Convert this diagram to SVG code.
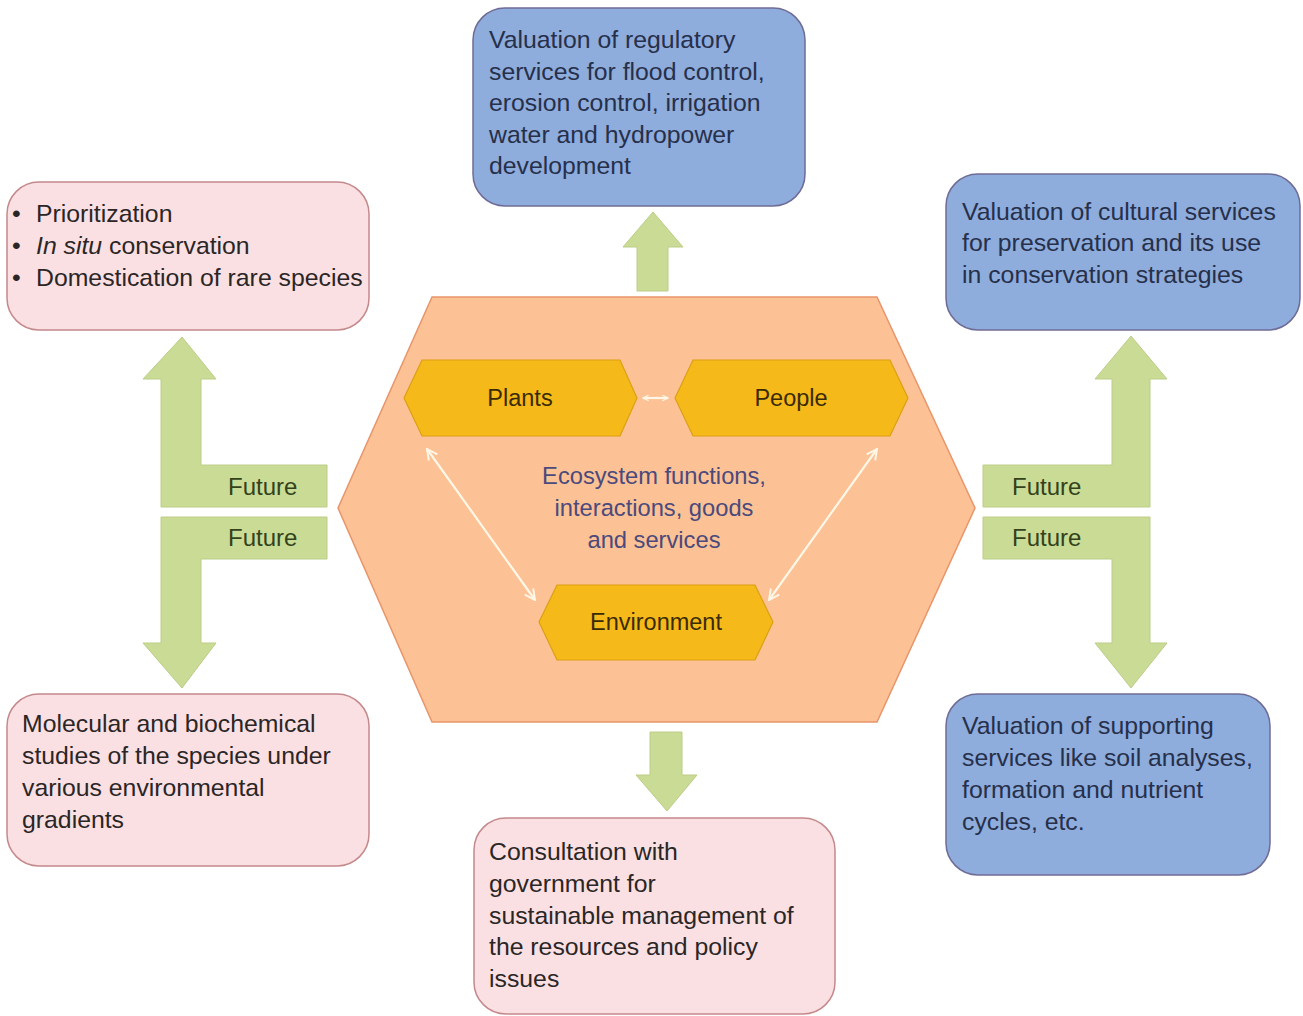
<svg xmlns="http://www.w3.org/2000/svg" width="1303" height="1016" viewBox="0 0 1303 1016">
<defs>
<style>
text{font-family:"Liberation Sans",Arial,sans-serif;font-size:24.8px}
.pink{fill:#fae0e2;stroke:#c4898c;stroke-width:1.5}
.blue{fill:#8eacdc;stroke:#6f6b97;stroke-width:1.5}
.tp{fill:#2b2626}
.tb{fill:#26304a}
.gold{fill:#f6b91a;stroke:#dba012;stroke-width:1.2}
.tg{fill:#3a2b05;text-anchor:middle;font-size:23.5px}
.grn{fill:#c9db94;stroke:#bccd88;stroke-width:1}
.fut{fill:#33421c;font-size:24px}
.ctr{fill:#4b4a7c;text-anchor:middle;font-size:23.7px}
.wl{stroke:#fff7e6;stroke-width:2.2;fill:none}
</style>
<marker id="wh" viewBox="0 0 10 10" refX="9" refY="5" markerWidth="7" markerHeight="7" orient="auto-start-reverse" markerUnits="userSpaceOnUse">
<path d="M1,1 L9,5 L1,9" fill="none" stroke="#fff7e6" stroke-width="1.6"/>
</marker>
<marker id="wh2" viewBox="0 0 10 10" refX="9" refY="5" markerWidth="13" markerHeight="13" orient="auto-start-reverse" markerUnits="userSpaceOnUse">
<path d="M1,1 L9,5 L1,9" fill="none" stroke="#fff7e6" stroke-width="1.5"/>
</marker>
</defs>
<rect width="1303" height="1016" fill="#ffffff"/>

<g id="connectors">
<polygon class="grn" points="653,212 683,247 668,247 668,291 637,291 637,247 623,247"/>
<polygon class="grn" points="650,732 682,732 682,775 697,775 667,811 636,775 650,775"/>
<polygon class="grn" points="182,337 216,379 201,379 201,465 327,465 327,507 161,507 161,379 143,379"/>
<polygon class="grn" points="161,517 327,517 327,559 201,559 201,643 216,643 182,688 143,643 161,643"/>
<polygon class="grn" points="1131,336 1167,379 1150,379 1150,507 983,507 983,465 1112,465 1112,379 1095,379"/>
<polygon class="grn" points="983,517 1150,517 1150,643 1167,643 1131,688 1095,643 1112,643 1112,559 983,559"/>
<text class="fut" x="228" y="495">Future</text>
<text class="fut" x="228" y="546">Future</text>
<text class="fut" x="1012" y="495">Future</text>
<text class="fut" x="1012" y="546">Future</text>
</g>

<g id="hexagon">
<polygon points="432,297 877,297 975,508 877,722 432,722 338,508" fill="#fcc195" stroke="#e8956a" stroke-width="1.5"/>
<text class="ctr" x="654" y="484">Ecosystem functions,</text>
<text class="ctr" x="654" y="516">interactions, goods</text>
<text class="ctr" x="654" y="548">and services</text>
</g>

<g id="inner-connectors">
<line class="wl" x1="427" y1="449" x2="535" y2="600" marker-start="url(#wh2)" marker-end="url(#wh2)"/>
<line class="wl" x1="877" y1="449" x2="769" y2="600" marker-start="url(#wh2)" marker-end="url(#wh2)"/>
<line class="wl" x1="643" y1="398" x2="668" y2="398" stroke-width="1.4" marker-start="url(#wh)" marker-end="url(#wh)"/>
</g>

<g id="plants">
<polygon class="gold" points="404,398 422,360 620,360 637,398 620,436 422,436"/>
<text class="tg" x="520" y="406">Plants</text>
</g>
<g id="people">
<polygon class="gold" points="675,398 693,360 890,360 908,398 890,436 693,436"/>
<text class="tg" x="791" y="406">People</text>
</g>
<g id="environment">
<polygon class="gold" points="539,622 557,585 755,585 773,622 755,660 557,660"/>
<text class="tg" x="656" y="630">Environment</text>
</g>

<g id="regulatory">
<rect class="blue" x="473" y="8" width="332" height="198" rx="32"/>
<text class="tb" x="489" y="48">Valuation of regulatory</text>
<text class="tb" x="489" y="80">services for flood control,</text>
<text class="tb" x="489" y="111">erosion control, irrigation</text>
<text class="tb" x="489" y="143">water and hydropower</text>
<text class="tb" x="489" y="174">development</text>
</g>

<g id="prioritization">
<rect class="pink" x="7" y="182" width="362" height="148" rx="32"/>
<text class="tp" x="12" y="222" font-size="20">•</text>
<text class="tp" x="36" y="222">Prioritization</text>
<text class="tp" x="12" y="254" font-size="20">•</text>
<text class="tp" x="36" y="254"><tspan font-style="italic">In situ</tspan> conservation</text>
<text class="tp" x="12" y="286" font-size="20">•</text>
<text class="tp" x="36" y="286">Domestication of rare species</text>
</g>

<g id="cultural">
<rect class="blue" x="946" y="174" width="354" height="156" rx="32"/>
<text class="tb" x="962" y="220">Valuation of cultural services</text>
<text class="tb" x="962" y="251">for preservation and its use</text>
<text class="tb" x="962" y="283">in conservation strategies</text>
</g>

<g id="molecular">
<rect class="pink" x="7" y="694" width="362" height="172" rx="32"/>
<text class="tp" x="22" y="732">Molecular and biochemical</text>
<text class="tp" x="22" y="764">studies of the species under</text>
<text class="tp" x="22" y="796">various environmental</text>
<text class="tp" x="22" y="828">gradients</text>
</g>

<g id="supporting">
<rect class="blue" x="946" y="694" width="324" height="181" rx="32"/>
<text class="tb" x="962" y="734">Valuation of supporting</text>
<text class="tb" x="962" y="766">services like soil analyses,</text>
<text class="tb" x="962" y="798">formation and nutrient</text>
<text class="tb" x="962" y="830">cycles, etc.</text>
</g>

<g id="consultation">
<rect class="pink" x="474" y="818" width="361" height="196" rx="32"/>
<text class="tp" x="489" y="860">Consultation with</text>
<text class="tp" x="489" y="892">government for</text>
<text class="tp" x="489" y="924">sustainable management of</text>
<text class="tp" x="489" y="955">the resources and policy</text>
<text class="tp" x="489" y="987">issues</text>
</g>
</svg>
